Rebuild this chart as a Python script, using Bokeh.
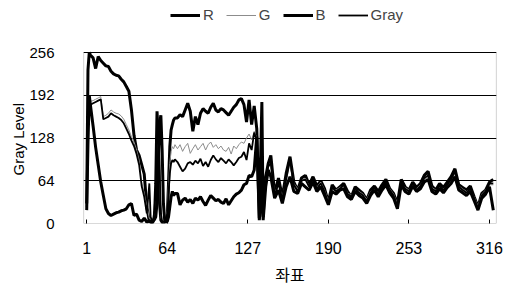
from bokeh.plotting import figure
from bokeh.models import (Range1d, FixedTicker, Legend, LegendItem, ColumnDataSource,
                          BoxAnnotation, Title)
from bokeh.embed import file_html
from bokeh.resources import INLINE

# pixel coordinate (좌표) along the scan line
x_pos = [1, 2, 3, 4, 6, 8, 10, 12, 14, 16, 18, 20, 22, 24, 26, 28, 30, 32, 34, 36, 38, 40, 42, 44, 46, 48, 50,
         51, 52, 53, 54, 55, 56, 57, 58, 59, 60, 61, 62, 63, 64, 65, 66, 67, 68, 69, 70,
         72, 74, 76, 78, 80, 82, 84, 86, 88, 90, 92, 94, 96, 98, 100, 102, 104, 106, 108, 110,
         112, 114, 116, 118, 120, 122, 124, 126, 128, 130, 132, 134, 136, 138,
         139, 140, 141, 143, 145, 148, 151, 154, 157, 160, 163, 166, 169, 172, 175, 178, 181, 184,
         187, 190, 193, 196, 199, 202, 205, 208, 211, 214, 217, 220, 223, 226, 229, 232, 235, 238,
         241, 244, 247, 250, 253, 256, 259, 262, 265, 268, 271, 274, 277, 280, 283, 286, 289, 292,
         295, 298, 301, 304, 307, 310, 313, 316, 319]

r_vals = [30, 230, 256, 252, 248, 232, 250, 244, 240, 236, 235, 228, 224, 222, 221, 216, 212, 205, 198, 170, 132, 110, 102, 88, 74, 25, 3,
          2, 0, 3, 8, 60, 168, 130, 30, 5, 2, 0, 3, 2, 8, 60, 115, 140, 148, 155, 158,
          158, 163, 160, 170, 180, 168, 138, 160, 148, 165, 172, 168, 165, 174, 180, 170, 167, 172, 170, 166,
          162, 168, 174, 178, 185, 187, 178, 152, 185, 148, 176, 142, 8, 182,
          10, 45, 70, 90, 102, 45, 68, 40, 75, 100, 62, 50, 68, 72, 58, 70, 56, 64,
          52, 32, 58, 50, 55, 60, 48, 40, 55, 50, 45, 35, 50, 56, 48, 58, 66, 52,
          45, 30, 66, 55, 50, 62, 54, 60, 72, 78, 56, 50, 60, 54, 62, 70, 82, 58,
          54, 50, 56, 40, 25, 45, 50, 62, 66]

g_vals = [30, 150, 185, 183, 184, 186, 188, 190, 160, 162, 165, 170, 167, 165, 164, 161, 156, 148, 140, 130, 122, 110, 95, 62, 45, 26, 8,
          5, 3, 8, 15, 40, 100, 140, 70, 10, 3, 2, 4, 8, 20, 60, 90, 108, 115, 112, 118,
          112, 118, 108, 115, 120, 105, 112, 118, 110, 115, 120, 110, 118, 122, 114, 118, 112, 116, 110, 108,
          114, 104, 116, 112, 118, 122, 120, 128, 134, 125, 138, 128, 18, 60,
          10, 36, 62, 84, 88, 46, 58, 40, 64, 92, 60, 52, 62, 68, 56, 64, 54, 62,
          50, 34, 52, 50, 54, 56, 46, 42, 50, 48, 44, 36, 48, 52, 46, 52, 60, 52,
          44, 30, 60, 54, 50, 58, 52, 58, 66, 70, 54, 50, 54, 52, 56, 64, 74, 56,
          52, 48, 50, 40, 26, 44, 50, 58, 58]

b_vals = [20, 120, 192, 176, 146, 114, 88, 62, 42, 22, 15, 12, 14, 16, 17, 19, 20, 22, 28, 30, 12, 14, 5, 3, 8, 2, 4,
          3, 2, 4, 6, 10, 30, 90, 150, 162, 110, 30, 5, 2, 3, 10, 25, 40, 48, 42, 45,
          45, 28, 35, 38, 32, 36, 30, 38, 35, 40, 33, 27, 35, 42, 38, 34, 36, 32, 30, 37,
          28, 34, 40, 44, 46, 50, 58, 60, 72, 70, 80, 130, 5, 55,
          5, 30, 55, 80, 70, 38, 50, 30, 55, 70, 48, 45, 60, 55, 50, 62, 48, 55,
          42, 28, 48, 44, 50, 52, 40, 36, 48, 42, 38, 30, 42, 50, 40, 50, 58, 46,
          38, 22, 58, 48, 44, 56, 48, 52, 62, 66, 48, 44, 52, 46, 54, 60, 70, 50,
          46, 42, 48, 34, 20, 38, 44, 55, 20]

gray_vals = [25, 140, 178, 178, 180, 182, 184, 186, 156, 158, 160, 165, 162, 160, 158, 155, 150, 142, 134, 124, 116, 104, 88, 56, 40, 15, 60,
             10, 4, 6, 20, 50, 120, 150, 80, 15, 2, 3, 2, 6, 15, 45, 75, 90, 95, 92, 96,
             92, 85, 78, 82, 90, 92, 88, 94, 90, 97, 86, 92, 85, 95, 102, 96, 92, 98, 94, 90,
             96, 92, 87, 92, 98, 100, 107, 95, 120, 110, 136, 125, 12, 70,
             8, 35, 60, 86, 90, 42, 60, 36, 66, 95, 58, 48, 64, 66, 55, 66, 52, 60,
             48, 30, 54, 48, 52, 58, 44, 40, 52, 46, 42, 33, 46, 54, 44, 54, 62, 50,
             42, 26, 62, 52, 48, 60, 50, 56, 68, 72, 52, 48, 56, 50, 58, 66, 78, 55,
             50, 46, 52, 38, 22, 42, 48, 60, 60]

x_ticks = [1, 64, 127, 190, 253, 316]
y_ticks = [0, 64, 128, 192, 256]
X_MIN, X_MAX = -1.5, 321.5
Y_MAX = 256

src = ColumnDataSource(dict(x=x_pos, r=r_vals, g=g_vals, b=b_vals, gray=gray_vals))

# frame spans the whole height above the x axis so the legend can sit inside it;
# the visible plot box (0..256) is drawn with a BoxAnnotation
FRAME_H = 223
BOX_H = 171
p = figure(width=516, height=288, output_backend="svg", toolbar_location=None,
           x_range=Range1d(X_MIN, X_MAX), y_range=Range1d(0, Y_MAX * FRAME_H / BOX_H),
           min_border_left=83, min_border_right=20, min_border_top=0, min_border_bottom=65)
p.background_fill_color = "white"
p.border_fill_color = "white"
p.outline_line_color = None

FONT = "Liberation Sans"

p.xgrid.visible = False
p.ygrid.grid_line_color = "black"
p.ygrid.grid_line_width = 1
p.ygrid.ticker = FixedTicker(ticks=y_ticks)

box = BoxAnnotation(left=X_MIN, right=X_MAX, bottom=0, top=Y_MAX,
                    fill_color=None, fill_alpha=0, line_color="black", line_width=1.2)
p.add_layout(box)

p.xaxis.ticker = FixedTicker(ticks=x_ticks)
p.yaxis.ticker = FixedTicker(ticks=y_ticks)
for ax in (p.xaxis[0], p.yaxis[0]):
    ax.axis_line_color = None
    ax.minor_tick_line_color = None
    ax.major_label_text_font = FONT
    ax.major_label_text_color = "black"
    ax.axis_label_text_font_style = "normal"
    ax.axis_label_text_color = "black"

p.xaxis.major_label_text_font_size = "16px"
p.yaxis.major_label_text_font_size = "15px"
p.xaxis.major_tick_in = 4
p.xaxis.major_tick_out = 0
p.xaxis.major_tick_line_color = "black"
p.xaxis.major_label_standoff = 18
p.xaxis.axis_label = "좌표"
p.xaxis.axis_label_text_font = "Noto Sans CJK KR"
p.xaxis.axis_label_text_font_size = "16px"
p.xaxis.axis_label_standoff = 5

p.yaxis.major_tick_in = 0
p.yaxis.major_tick_out = 0
p.yaxis.major_tick_line_color = None
p.yaxis.major_label_standoff = 29

ylab = Title(text="Gray Level", align="left", offset=48, text_font=FONT,
             text_font_size="15px", text_font_style="normal", text_color="black",
             standoff=0)
p.add_layout(ylab, "left")

lr = p.line("x", "r", source=src, line_color="black", line_width=3)
lg = p.line("x", "g", source=src, line_color="#8c8c8c", line_width=1)
lb = p.line("x", "b", source=src, line_color="black", line_width=3)
lgr = p.line("x", "gray", source=src, line_color="black", line_width=1.8)

legend = Legend(items=[LegendItem(label="R", renderers=[lr]),
                       LegendItem(label="G", renderers=[lg]),
                       LegendItem(label="B", renderers=[lb]),
                       LegendItem(label="Gray", renderers=[lgr])],
                orientation="horizontal", location=(87, 200),
                padding=0, margin=0, spacing=12, glyph_width=30, glyph_height=12,
                label_standoff=3, label_height=12, label_width=0,
                label_text_font=FONT, label_text_font_size="15px",
                border_line_color=None, background_fill_alpha=0)
p.add_layout(legend, "center")

open("out.html", "w").write(file_html(p, INLINE))
